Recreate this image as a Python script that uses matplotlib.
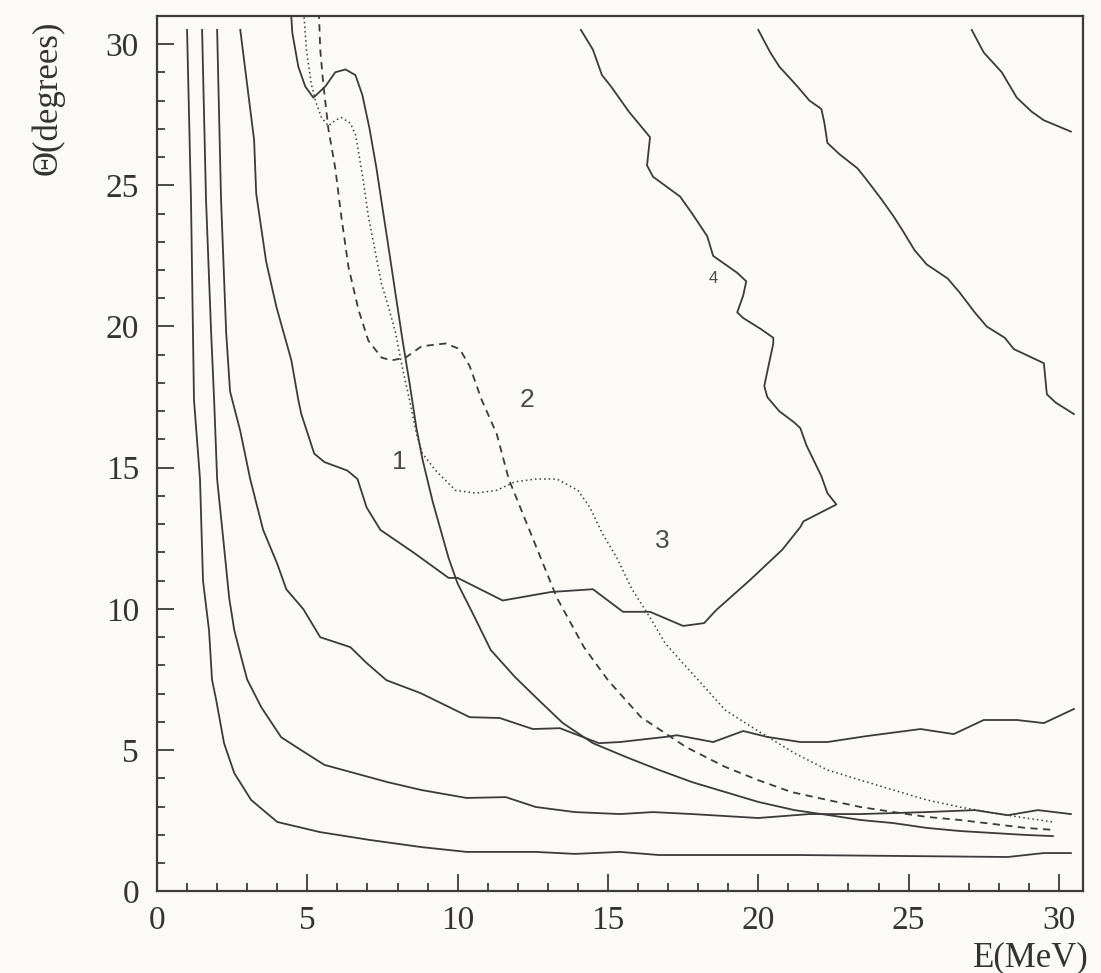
import matplotlib.pyplot as plt
from matplotlib.ticker import MultipleLocator

# contour lines (solid): E in MeV, theta in degrees
low_e = [1.0, 1.13, 1.23, 1.43, 1.53, 1.73, 1.83, 1.97, 2.23, 2.57, 3.13, 4.0, 5.43, 7.1, 8.8,
         10.3, 12.6, 13.9, 15.4, 16.7, 21.4, 28.3, 29.5, 30.4]
low_t = [30.5, 24.5, 17.4, 14.6, 11.0, 9.25, 7.5, 6.77, 5.25, 4.19, 3.24, 2.46, 2.1, 1.82, 1.57,
         1.4, 1.4, 1.33, 1.4, 1.29, 1.29, 1.22, 1.36, 1.36]

second_e = [1.5, 1.63, 1.8, 1.9, 2.0, 2.23, 2.4, 2.57, 2.8, 3.0, 3.47, 4.13, 4.8, 5.57, 6.57, 7.67,
            8.8, 10.3, 11.6, 12.6, 13.9, 15.4, 16.5, 17.8, 20.0, 21.7, 23.4, 25.6, 27.2, 28.3,
            29.3, 30.4]
second_t = [30.5, 24.5, 19.8, 17.4, 14.6, 12.2, 10.4, 9.25, 8.3, 7.5, 6.52, 5.46, 5.0, 4.48, 4.19,
            3.87, 3.59, 3.31, 3.34, 2.99, 2.81, 2.74, 2.81, 2.74, 2.6, 2.74, 2.74, 2.81, 2.88, 2.7,
            2.88, 2.74]

third_e = [2.0, 2.13, 2.3, 2.43, 2.77, 3.1, 3.53, 4.0, 4.3, 4.87, 5.43, 6.43, 6.97, 7.63, 8.77,
           10.4, 11.4, 12.5, 13.4, 14.7, 15.4, 16.9, 17.3, 18.5, 19.5, 20.3, 21.4, 22.3, 23.6,
           25.4, 26.5, 27.5, 28.6, 29.5, 30.5]
third_t = [30.5, 24.5, 19.8, 17.7, 16.3, 14.6, 12.8, 11.6, 10.7, 9.99, 9.0, 8.65, 8.09, 7.48, 7.02,
           6.17, 6.14, 5.75, 5.78, 5.25, 5.29, 5.47, 5.53, 5.29, 5.68, 5.47, 5.29, 5.29, 5.5,
           5.75, 5.57, 6.07, 6.07, 5.96, 6.46]

u_e = [2.77, 3.23, 3.3, 3.63, 3.97, 4.47, 4.7, 4.8, 5.23, 5.57, 6.33, 6.67, 6.97, 7.43, 8.53, 9.7,
       10.0, 11.5, 13.1, 14.5, 15.5, 16.4, 17.5, 18.2, 18.6, 19.7, 20.8, 21.4, 21.5, 22.6, 22.3,
       22.1, 21.6, 21.4, 21.2, 20.7, 20.3, 20.2, 20.3, 20.5, 20.5, 20.1, 19.5, 19.3, 19.5, 19.6,
       19.3, 18.5, 18.3, 17.8, 17.4, 16.5, 16.3, 16.4, 15.7, 15.1, 14.8, 14.5, 14.1]
u_t = [30.5, 26.6, 24.7, 22.3, 20.7, 18.8, 17.4, 16.9, 15.5, 15.2, 14.9, 14.6, 13.6, 12.8, 12.0,
       11.1, 11.1, 10.3, 10.6, 10.7, 9.9, 9.9, 9.4, 9.5, 9.96, 11.0, 12.1, 12.9, 13.1, 13.7, 14.1,
       14.7, 15.8, 16.4, 16.6, 17.0, 17.5, 17.9, 18.4, 19.4, 19.6, 19.9, 20.3, 20.5, 21.1, 21.6,
       21.9, 22.5, 23.2, 24.0, 24.6, 25.3, 25.7, 26.7, 27.6, 28.5, 28.9, 29.8, 30.5]

r1_e = [20.0, 20.4, 20.7, 21.3, 21.7, 22.1, 22.2, 22.3, 22.7, 23.3, 23.6, 24.1, 24.5, 24.8, 25.2,
        25.6, 26.3, 26.7, 27.2, 27.6, 28.2, 28.5, 29.1, 29.5, 29.6, 29.9, 30.5]
r1_t = [30.5, 29.7, 29.2, 28.5, 28.0, 27.7, 27.2, 26.5, 26.1, 25.6, 25.2, 24.5, 23.9, 23.4, 22.7,
        22.2, 21.7, 21.2, 20.5, 20.0, 19.6, 19.2, 18.9, 18.7, 17.6, 17.3, 16.9]

r2_e = [27.1, 27.5, 28.1, 28.6, 29.1, 29.5, 30.4]
r2_t = [30.5, 29.7, 29.0, 28.1, 27.6, 27.3, 26.9]

# curves 1 (solid), 2 (dashed), 3 (dotted)
k1_e = [4.4, 4.47, 4.5, 4.7, 4.93, 5.2, 5.6, 5.93, 6.27, 6.6, 6.83, 7.07, 7.3, 7.5, 7.73, 7.97,
        8.17, 8.4, 8.63, 8.83, 9.17, 9.7, 10.0, 10.5, 11.1, 11.9, 12.7, 13.5, 14.5, 15.6, 16.7,
        17.8, 18.9, 20.0, 21.2, 22.3, 23.4, 24.5, 25.6, 26.7, 27.8, 28.9, 29.8]
k1_t = [31.6, 30.93, 30.4, 29.2, 28.5, 28.1, 28.5, 29.0, 29.1, 28.9, 28.2, 27.0, 25.6, 24.2, 22.6,
        20.9, 19.5, 18.0, 16.4, 15.3, 13.8, 11.8, 10.9, 9.85, 8.55, 7.6, 6.77, 5.96, 5.25, 4.76,
        4.3, 3.87, 3.52, 3.17, 2.88, 2.71, 2.53, 2.42, 2.25, 2.14, 2.07, 2.0, 1.96]

k2_e = [5.37, 5.43, 5.53, 5.7, 5.93, 6.13, 6.37, 6.7, 7.03, 7.47, 7.8, 8.27, 8.8, 9.6, 10.07,
        10.4, 10.8, 11.3, 11.7, 12.5, 13.3, 14.2, 15.0, 16.1, 17.6, 18.9, 20.0, 21.1, 22.3, 23.4,
        24.5, 25.6, 26.7, 27.8, 28.9, 29.8]
k2_t = [31.6, 29.8, 28.6, 27.0, 25.6, 23.9, 22.1, 20.6, 19.5, 18.9, 18.8, 18.9, 19.3, 19.4, 19.2,
        18.6, 17.4, 16.2, 14.6, 12.5, 10.4, 8.65, 7.48, 6.17, 5.11, 4.41, 3.94, 3.52, 3.24, 2.99,
        2.81, 2.64, 2.53, 2.39, 2.25, 2.18]

k3_e = [4.85, 4.97, 5.13, 5.27, 5.47, 5.7, 5.93, 6.13, 6.43, 6.6, 6.7, 6.87, 7.03, 7.27, 7.47, 7.7,
        7.93, 8.17, 8.4, 8.63, 8.83, 9.27, 9.93, 10.6, 11.3, 11.9, 12.6, 13.3, 14.0, 14.4, 14.8,
        15.3, 15.8, 16.4, 16.9, 17.4, 18.1, 18.9, 20.1, 21.2, 22.3, 23.4, 24.5, 25.6, 26.7, 27.8,
        28.9, 29.8]
k3_t = [31.6, 29.8, 28.6, 28.0, 27.4, 27.1, 27.3, 27.4, 27.2, 26.8, 26.2, 25.1, 23.9, 22.6, 21.5,
        20.7, 19.8, 18.5, 17.4, 16.2, 15.5, 14.9, 14.2, 14.1, 14.2, 14.5, 14.6, 14.6, 14.2, 13.6,
        12.7, 11.8, 10.7, 9.7, 8.79, 8.19, 7.37, 6.42, 5.61, 4.9, 4.3, 3.94, 3.59, 3.24, 2.99,
        2.78, 2.6, 2.46]

curve_labels = ["1", "2", "3", "4"]
label_e = [8.07, 12.3, 16.8, 18.5]
label_t = [15.2, 17.4, 12.4, 21.7]

ink = "#3b3b3b"
paper = "#fbfaf7"

fig = plt.figure(figsize=(11.01, 9.73), dpi=100, facecolor=paper)
ax = fig.add_axes([0.1426, 0.0838, 0.841, 0.900], facecolor=paper)

for e, t in [(low_e, low_t), (second_e, second_t), (third_e, third_t), (u_e, u_t),
             (r1_e, r1_t), (r2_e, r2_t), (k1_e, k1_t)]:
    ax.plot(e, t, color=ink, lw=1.3)
ax.plot(k2_e, k2_t, color=ink, lw=1.3, linestyle=(0, (4, 3)))
ax.plot(k3_e, k3_t, color=ink, lw=1.1, linestyle=(0, (1, 2)))

for s, x, y in zip(curve_labels, label_e, label_t):
    fs = 12 if s == "4" else 19
    ax.text(x, y, s, fontsize=fs, family="Liberation Sans", color="#4a4a4a",
            ha="center", va="center")

ax.set_xlim(0, 30.8)
ax.set_ylim(0, 31.0)
ax.xaxis.set_major_locator(MultipleLocator(5))
ax.xaxis.set_minor_locator(MultipleLocator(1))
ax.yaxis.set_major_locator(MultipleLocator(5))
ax.yaxis.set_minor_locator(MultipleLocator(1))
ax.tick_params(which="both", direction="in", color=ink, width=1.3)
ax.tick_params(which="major", length=12)
ax.tick_params(which="minor", length=6)
ax.tick_params(axis="x", pad=10)
ax.tick_params(axis="y", pad=13)
for lab in ax.get_xticklabels() + ax.get_yticklabels():
    lab.set_fontfamily("Liberation Serif")
    lab.set_fontsize(24)
    lab.set_color("#333333")
for sp in ax.spines.values():
    sp.set_color(ink)
    sp.set_linewidth(1.6)

ax.text(1.006, -0.076, "E(MeV)", transform=ax.transAxes, ha="right", va="center",
        fontsize=25, family="Liberation Serif", color="#333333")
ax.text(-0.118, 0.906, "\u0398(degrees)", transform=ax.transAxes, ha="center", va="center",
        rotation=90, fontsize=25, family="Liberation Serif", color="#333333")

fig.savefig("out.png", dpi=100, facecolor=paper)
